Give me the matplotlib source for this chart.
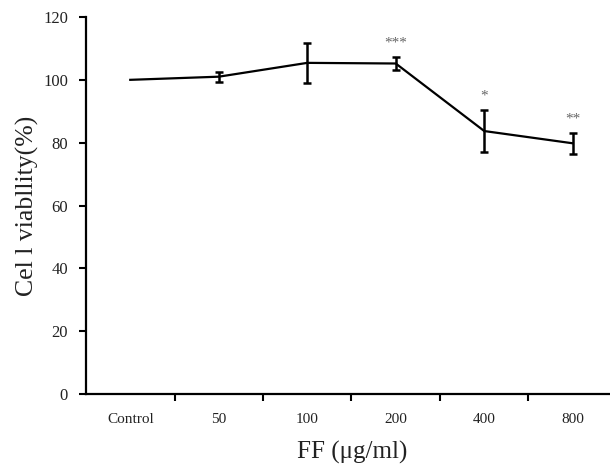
import matplotlib
matplotlib.use("Agg")
import matplotlib.pyplot as plt
import numpy as np

categories = ["Control", "50", "100", "200", "400", "800"]
viability = [100.0, 101.0, 105.4, 105.2, 83.7, 79.8]
errors = [0.0, 1.6, 6.4, 2.0, 6.6, 3.4]
stars = ["", "", "", "***", "*", "**"]
yticks = [0, 20, 40, 60, 80, 100, 120]

plt.rcParams['font.family'] = ['Liberation Serif', 'DejaVu Serif']

fig = plt.figure(figsize=(6.1, 4.7), dpi=100)
ax = fig.add_axes([86/610, 1-394/470, (617-86)/610, (394-17)/470])

x = np.arange(len(categories))
ax.plot(x, viability, color='black', lw=1.6)
ex = x[1:]
ax.errorbar(ex, viability[1:], yerr=errors[1:], fmt='none', ecolor='black',
            elinewidth=1.8, capsize=3, capthick=1.8)

for xi, v, e, s in zip(x, viability, errors, stars):
    if s:
        ax.text(xi, v + e + 3.3, s, ha='center', va='baseline', fontsize=11,
                color='#666666')

ax.set_xlim(-0.5, len(categories) - 0.5)
ax.set_ylim(0, 120)
ax.set_yticks(yticks)
ax.set_yticklabels([str(t) for t in yticks], fontsize=12, color='#222222')
ax.set_xticks(x)
ax.set_xticklabels(categories, fontsize=11, color='#222222')
ax.set_xticks(np.arange(len(categories)) + 0.5, minor=True)
ax.tick_params(axis='x', which='major', length=0, pad=14)
ax.tick_params(axis='x', which='minor', length=5, width=1.5, direction='out')
ax.tick_params(axis='y', which='major', length=5, width=1.5, direction='out', pad=8)

for side in ['top', 'right']:
    ax.spines[side].set_visible(False)
for side in ['left', 'bottom']:
    ax.spines[side].set_linewidth(1.6)

ax.text((27 - 86) / 531, 0.5, "Cel l viabllity(%)", rotation=90, ha='center',
        va='center', fontsize=18.5, color='#222222', transform=ax.transAxes)
ax.text((352 - 86) / 531, (394 - 452) / 377, "FF (μg/ml)", ha='center',
        va='center', fontsize=18, color='#222222', transform=ax.transAxes)

fig.savefig("out.png", dpi=100)
